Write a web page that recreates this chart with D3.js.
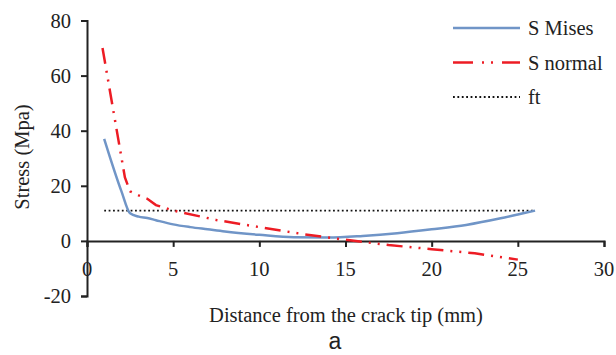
<!DOCTYPE html>
<html>
<head>
<meta charset="utf-8">
<title>stress</title>
<script src="https://cdn.jsdelivr.net/npm/d3@7"></script>
<style>
  body { margin: 0; background: #fff; }
</style>
</head>
<body>
<div id="chart"></div>
<script>
// data
var misesX = [1, 2, 2.5, 3, 3.5, 4, 5, 6, 7, 8, 10, 12, 14, 16, 18, 20, 22, 24, 25, 26];
var misesY = [37, 18, 10, 8.8, 8.3, 7.5, 6, 5, 4.2, 3.4, 2.2, 1.3, 1.2, 1.8, 2.8, 4.2, 5.8, 8.2, 9.6, 11];
var normalX = [0.9, 2.2, 2.5, 3, 3.5, 4, 5, 7.5, 10, 12.5, 15, 17.5, 20, 22.5, 25];
var normalY = [70, 23, 18, 16.5, 15.3, 13, 11, 7.6, 5, 2.5, 0.4, -1.5, -3, -4.5, -6.8];
var ftX = [1, 26];
var ftY = [11, 11];
var xTicks = [0, 5, 10, 15, 20, 25, 30];
var yTicks = [-20, 0, 20, 40, 60, 80];
var seriesNames = ["S Mises", "S normal", "ft"];

var FONT = "'Liberation Serif', 'Times New Roman', Times";
var FS = 20.5;
var W = 616, H = 355;
var svg = d3.select('#chart').append('svg')
    .attr('width', W)
    .attr('height', H);

var x = d3.scaleLinear().domain([0, 30]).range([87, 604]);
var y = d3.scaleLinear().domain([-20, 80]).range([296, 20.5]);

// x axis sits at zero
svg.append('g')
    .attr('transform', 'translate(0,' + y(0) + ')')
    .call(d3.axisBottom(x).tickValues(xTicks).tickSize(6).tickFormat(''))
    .call(function(g) {
        g.select('.domain').attr('stroke', '#222').attr('stroke-width', 2);
        g.selectAll('.tick line').attr('stroke', '#222').attr('stroke-width', 2);
    });

svg.append('g').selectAll('text')
    .data(xTicks)
    .enter().append('text')
    .attr('x', function(d) { return x(d); })
    .attr('y', y(0) + 35)
    .attr('text-anchor', 'middle')
    .attr('font-family', FONT)
    .attr('font-size', FS)
    .attr('fill', '#222')
    .text(function(d) { return d; });

svg.append('g')
    .attr('transform', 'translate(' + x(0) + ',0)')
    .call(d3.axisLeft(y).tickValues(yTicks).tickSize(6).tickFormat(''))
    .call(function(g) {
        g.select('.domain').attr('stroke', '#222').attr('stroke-width', 2);
        g.selectAll('.tick line').attr('stroke', '#222').attr('stroke-width', 2);
    });

svg.append('g').selectAll('text')
    .data(yTicks)
    .enter().append('text')
    .attr('x', 71)
    .attr('y', function(d) { return y(d) + 7; })
    .attr('text-anchor', 'end')
    .attr('font-family', FONT)
    .attr('font-size', FS)
    .attr('fill', '#222')
    .text(function(d) { return d; });

var smooth = d3.line()
    .x(function(d) { return x(d[0]); })
    .y(function(d) { return y(d[1]); })
    .curve(d3.curveMonotoneX);
var straight = d3.line()
    .x(function(d) { return x(d[0]); })
    .y(function(d) { return y(d[1]); });

var styles = [
    { color: '#7095C7', width: 2.5, dash: null },
    { color: '#ED1C24', width: 2.5, dash: '16,7,2,7,2,7' },
    { color: '#111', width: 1.8, dash: '1.8,2.6' }
];

var series = [
    d3.zip(misesX, misesY),
    d3.zip(normalX, normalY),
    d3.zip(ftX, ftY)
];

// ft first so the curves sit on top
[2, 0, 1].forEach(function(i) {
    svg.append('path')
        .datum(series[i])
        .attr('fill', 'none')
        .attr('stroke', styles[i].color)
        .attr('stroke-width', styles[i].width)
        .attr('stroke-dasharray', styles[i].dash)
        .attr('d', i == 0 ? smooth : straight);
});

// legend
var leg = svg.append('g');
seriesNames.forEach(function(name, i) {
    var ly = 28 + i * 34.5;
    leg.append('line')
        .attr('x1', 453).attr('x2', 520)
        .attr('y1', ly).attr('y2', ly)
        .attr('stroke', styles[i].color)
        .attr('stroke-width', styles[i].width)
        .attr('stroke-dasharray', i == 1 ? '20,9,2,7,2,9' : styles[i].dash);
    leg.append('text')
        .attr('x', 528)
        .attr('y', ly + 7)
        .attr('font-family', FONT)
        .attr('font-size', FS)
        .attr('fill', '#222')
        .text(name);
});

svg.append('text')
    .attr('transform', 'translate(29,157) rotate(-90)')
    .attr('text-anchor', 'middle')
    .attr('font-family', FONT)
    .attr('font-size', FS)
    .attr('fill', '#222')
    .text('Stress (Mpa)');

svg.append('text')
    .attr('x', 346)
    .attr('y', 322)
    .attr('text-anchor', 'middle')
    .attr('font-family', FONT)
    .attr('font-size', FS)
    .attr('fill', '#222')
    .text('Distance from the crack tip (mm)');

svg.append('text')
    .attr('x', 335)
    .attr('y', 349)
    .attr('text-anchor', 'middle')
    .attr('font-family', "'Liberation Sans', Arial")
    .attr('font-size', 23)
    .attr('fill', '#222')
    .text('a');
</script>
</body>
</html>
